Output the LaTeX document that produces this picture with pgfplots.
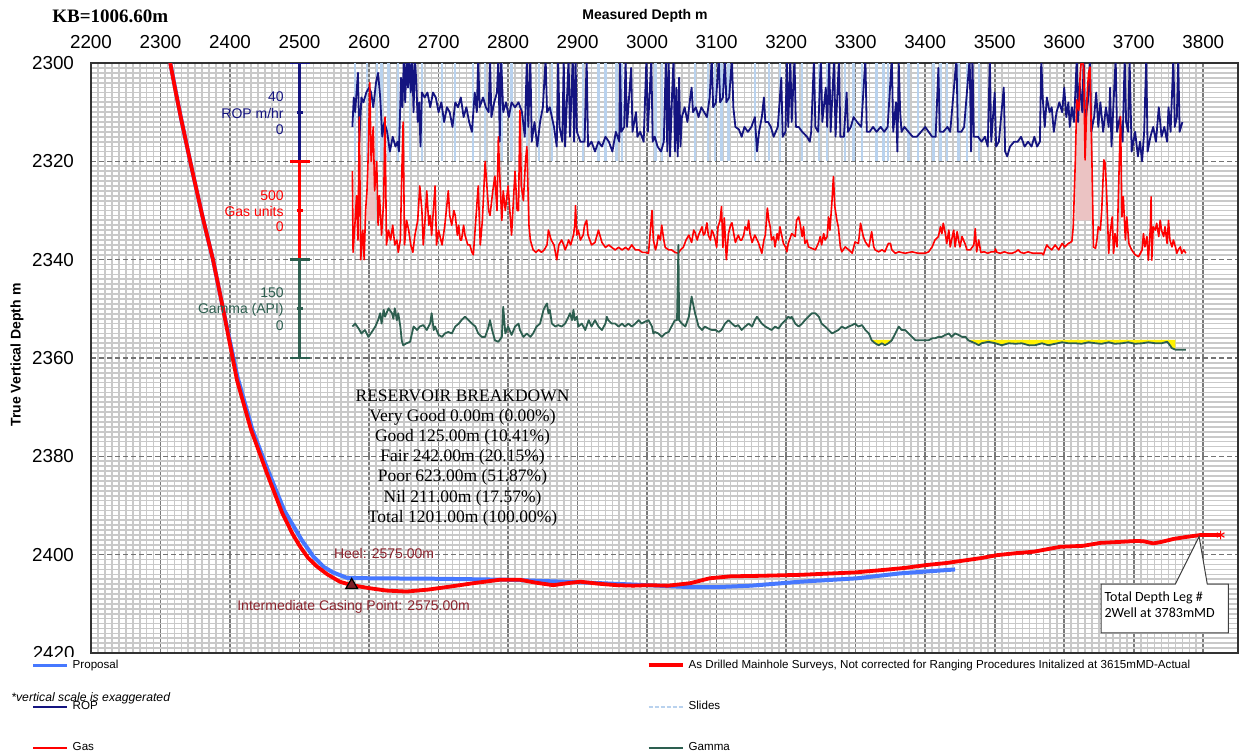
\documentclass[border=0pt]{standalone}
\usepackage{pgfplots}
\pgfplotsset{compat=1.18}
\usepackage{pgfplotstable}
\usepackage{fontspec}
\setmainfont{Liberation Sans}
\newfontfamily\serifkb{Liberation Serif}
\newfontfamily\calloutfont{Carlito}

\definecolor{ropc}{RGB}{20,20,128}
\definecolor{gasc}{RGB}{255,0,0}
\definecolor{gammac}{RGB}{45,95,80}
\definecolor{propc}{RGB}{70,120,255}
\definecolor{drillc}{RGB}{255,0,0}
\definecolor{slidesc}{RGB}{185,210,238}
\definecolor{maroonc}{RGB}{140,35,45}
\definecolor{pinkc}{RGB}{235,195,195}

% ROP track (MD, plotted TVD position)
\pgfplotstableread{
md tvd
2576 2313
2578 2307
2580 2310
2584 2302
2586 2316
2589 2307
2592 2308
2596 2306
2600 2305
2603 2306
2606 2309
2610 2304
2613 2302
2616 2307
2619 2315
2622 2312
2626 2314
2630 2318
2634 2315
2638 2317
2641 2316
2643 2318
2646 2303
2648 2309
2650 2299
2652 2308
2654 2299
2656 2305
2658 2299
2660 2306
2662 2299
2664 2310
2666 2299
2668 2304
2670 2312
2672 2308
2674 2317
2676 2306
2680 2307
2684 2306
2688 2309
2692 2306
2696 2307
2700 2310
2704 2308
2708 2312
2712 2309
2716 2310
2720 2313
2724 2308
2728 2309
2732 2307
2736 2311
2740 2309
2744 2312
2748 2314
2752 2306
2755 2310
2757 2299
2759 2309
2764 2307
2768 2309
2772 2310
2774 2299
2776 2311
2780 2308
2784 2306
2786 2299
2788 2316
2790 2299
2793 2310
2797 2308
2801 2311
2805 2308
2810 2309
2815 2308
2820 2310
2824 2315
2827 2299
2829 2313
2832 2299
2834 2316
2838 2312
2842 2317
2846 2312
2850 2309
2854 2299
2856 2310
2860 2309
2866 2313
2870 2317
2872 2299
2874 2313
2878 2316
2880 2299
2882 2317
2887 2299
2889 2315
2893 2299
2895 2316
2897 2299
2899 2314
2904 2316
2910 2316
2913 2299
2915 2317
2920 2316
2925 2318
2930 2316
2935 2317
2940 2315
2945 2316
2950 2318
2955 2314
2960 2316
2961 2299
2963 2314
2967 2313
2969 2299
2971 2313
2977 2301
2979 2314
2984 2310
2986 2315
2990 2314
2995 2316
2999 2299
3001 2314
3006 2299
3008 2316
3011 2315
3015 2317
3020 2318
3024 2316
3027 2299
3029 2318
3031 2299
3033 2319
3036 2306
3038 2299
3040 2318
3042 2305
3044 2319
3046 2303
3048 2317
3050 2311
3054 2309
3058 2312
3062 2307
3064 2305
3066 2310
3070 2309
3074 2311
3078 2309
3082 2310
3086 2311
3090 2307
3093 2299
3095 2309
3099 2308
3103 2299
3105 2308
3109 2307
3112 2299
3114 2308
3118 2307
3122 2299
3124 2309
3127 2313
3132 2313.5
3136 2315
3140 2313
3145 2314
3150 2313
3155 2311
3158 2318
3161 2314
3165 2311
3168 2307
3170 2312
3174 2312
3178 2313
3182 2315
3188 2313
3193 2303
3195 2315
3199 2314
3201 2299
3203 2313
3206 2299
3208 2312
3212 2299
3214 2313
3218 2313
3223 2314
3230 2315
3234 2316
3236 2314
3240 2299
3242 2313
3246 2314
3250 2299
3252 2312
3257 2305
3259 2313
3262 2299
3264 2314
3269 2299
3271 2315
3276 2299
3278 2315
3283 2315
3287 2306
3289 2314
3293 2313
3297 2311
3302 2312
3308 2313
3314 2299
3316 2314
3320 2314
3325 2313
3330 2314
3336 2313
3341 2314
3346 2313
3352 2299
3354 2314
3358 2308
3360 2318
3362 2300
3364 2310
3366 2314
3370 2313
3376 2314
3382 2315
3388 2315
3394 2314
3400 2313
3405 2314
3410 2315
3415 2315
3419 2301
3421 2314
3426 2314
3432 2313
3436 2314
3445 2299
3447 2314
3452 2314
3456 2313
3464 2299
3466 2318
3468 2299
3470 2315
3476 2315
3481 2316
3486 2315
3490 2317
3493 2299
3495 2316
3500 2306
3502 2317
3506 2316
3513 2305
3515 2318
3518 2319
3522 2317
3528 2316
3533 2316
3538 2315
3543 2317
3548 2316
3553 2317
3557 2315
3561 2317
3565 2316
3567 2299
3569 2307
3572 2313
3575 2307
3579 2310
3582 2309
3585 2314
3589 2310
3593 2308
3597 2310
3600 2305
3603 2311
3606 2308
3608 2313
3611 2309
3614 2312
3616 2306
3618 2299
3620 2312
3622 2304
3626 2310
3628 2299
3630 2312
3634 2308
3637 2299
3639 2314
3643 2311
3646 2306
3649 2313
3652 2308
3656 2314
3660 2309
3664 2313
3666 2305
3668 2317
3671 2308
3674 2299
3676 2314
3680 2311
3684 2316
3687 2299
3689 2312
3692 2314
3694 2299
3697 2318
3702 2314
3706 2319
3709 2316
3712 2320
3715 2314
3718 2299
3720 2318
3724 2315
3728 2313
3732 2316
3736 2309
3740 2315
3744 2313
3748 2316
3750 2309
3753 2314
3757 2299
3759 2313
3762 2311
3764 2299
3766 2314
3770 2312
}\ropdata

% Gas track
\pgfplotstableread{
md tvd
2576 2322
2577 2338.5
2580 2332
2582 2327
2584 2336
2586 2311
2588 2340
2591 2334
2593 2340
2595 2330
2597 2326
2599 2318
2601 2304
2603 2320
2606 2313
2608 2326
2611 2320
2613 2333
2615 2327
2618 2335
2621 2328
2623 2311
2625 2337
2628 2334
2631 2336
2634 2333
2637 2337
2640 2336
2642 2338.5
2645 2336
2647 2323
2649 2312
2651 2337
2654 2332
2657 2334
2660 2337
2663 2338.5
2666 2335
2670 2332
2673 2325
2676 2330
2678 2337
2681 2331
2683 2326
2686 2333
2688 2331
2690 2335
2693 2329
2695 2325
2697 2337
2700 2334
2705 2337
2709 2333
2714 2326
2716 2331
2719 2333
2722 2330
2724 2331
2727 2335
2729 2333
2731 2336
2733 2336
2736 2333
2738 2335
2742 2337
2745 2337
2748 2338.5
2750 2339
2753 2333
2757 2325
2760 2337
2763 2332
2767 2320
2769 2324
2772 2330
2774 2331
2778 2326
2781 2323
2784 2330
2786 2315
2788 2323
2791 2332
2793 2326
2796 2330
2800 2325
2803 2331
2805 2335
2808 2327
2810 2322
2813 2330
2815 2330
2817 2309.6
2819 2325
2822 2328
2825 2320
2827 2317
2830 2333
2832 2336
2836 2338
2840 2338.5
2844 2338
2848 2338.5
2852 2338
2856 2337
2858 2334
2862 2336
2866 2337
2870 2340
2873 2337
2877 2336
2880 2337
2882 2338
2885 2337
2887 2336
2890 2337
2894 2335
2896 2333
2897 2329
2899 2335
2901 2334
2904 2336
2908 2335
2910 2333
2913 2332
2915 2335
2920 2337
2925 2336.5
2928 2335
2930 2334
2935 2336.5
2940 2337.5
2945 2337
2949 2337.5
2954 2338
2959 2337.5
2964 2338
2969 2337.5
2973 2338
2978 2337
2983 2338
2988 2338
2993 2338.5
2997 2338.5
3002 2338.7
3007 2330
3009 2336
3012 2338
3014 2337
3016 2335
3019 2336
3021 2333
3024 2336
3026 2337.5
3031 2338
3035 2338
3040 2338.5
3045 2338.7
3048 2338
3052 2337.5
3056 2336
3060 2335
3064 2336.5
3067 2334
3069 2334.5
3072 2336
3074 2335
3077 2334
3079 2333.3
3081 2335
3083 2334.7
3086 2332.5
3088 2335
3091 2336
3093 2334
3095 2334.5
3098 2336
3100 2337.5
3102 2333.3
3105 2332
3107 2329.2
3109 2337.5
3111 2331.5
3114 2340
3117 2334.7
3120 2333
3122 2332.5
3125 2335
3127 2336.5
3131 2335
3134 2336
3136 2336
3139 2335
3141 2333.3
3144 2334
3146 2332
3148 2334.7
3151 2336.5
3155 2335
3160 2336.5
3165 2338.7
3168 2336
3170 2335
3173 2329.5
3175 2332
3177 2333.3
3179 2336
3182 2335.3
3184 2337.4
3187 2334.7
3189 2336
3191 2333.3
3194 2335.3
3196 2336.7
3199 2337.4
3201 2338.4
3203 2336.7
3208 2334.7
3213 2335.3
3215 2332
3218 2331.3
3220 2332.6
3223 2335.3
3225 2333.3
3227 2336.7
3230 2336
3232 2337.4
3237 2337.7
3242 2338
3244 2337.4
3247 2336.4
3249 2335.3
3251 2337
3254 2334.7
3256 2336
3259 2335.3
3261 2331.3
3263 2334
3266 2327.9
3268 2323.1
3270 2329.2
3273 2332
3275 2333.3
3278 2337.4
3280 2338.4
3285 2337.4
3290 2338
3295 2338.7
3299 2336.4
3304 2336.7
3307 2332.6
3309 2334
3311 2335.3
3314 2336.4
3319 2337.4
3323 2334.3
3326 2337.4
3328 2338
3333 2338.4
3338 2338
3342 2338.4
3347 2336.7
3350 2336.7
3352 2338
3357 2338.7
3362 2338.4
3371 2338.7
3381 2338.4
3390 2338.7
3400 2338.7
3405 2338.4
3410 2337.4
3414 2336
3419 2335.3
3422 2333.3
3424 2334.7
3426 2332.6
3429 2334.7
3431 2336.7
3434 2334
3436 2337.4
3438 2336
3441 2334
3443 2337.4
3446 2334.3
3448 2336
3450 2337.4
3453 2335.3
3458 2337
3460 2338
3465 2338
3470 2337
3472 2333.7
3474 2338.4
3477 2336
3480 2338.5
3485 2338.4
3490 2338.7
3495 2338.4
3500 2338.4
3501 2337.8
3503 2338.5
3508 2338.7
3514 2338.4
3520 2338.7
3525 2338.7
3530 2338.4
3534 2338
3537 2338.5
3542 2338.7
3548 2338.4
3555 2338.7
3562 2338.7
3568 2338.7
3570 2339
3573 2337.7
3575 2337
3577 2337.4
3582 2338
3587 2337
3592 2338
3597 2336.7
3601 2337.4
3606 2336.7
3611 2336.3
3613 2333.3
3616 2319.7
3618 2307.5
3621 2309.6
3623 2302.1
3625 2299
3628 2300.8
3630 2319.7
3633 2306.2
3635 2302.1
3637 2300.8
3640 2321.1
3642 2337.4
3645 2337.7
3647 2336
3649 2333.3
3652 2334
3654 2329.9
3657 2319.7
3659 2320.4
3661 2326.5
3664 2338.7
3666 2334.7
3669 2331.3
3671 2338.7
3673 2334.7
3676 2337.4
3678 2326.5
3681 2310.9
3683 2331.3
3685 2327.2
3688 2336
3690 2331.3
3693 2336.7
3695 2337.4
3697 2338
3702 2339
3707 2339.4
3712 2338
3714 2334.7
3716 2337.4
3719 2335.3
3721 2340.1
3724 2333.3
3725 2327.2
3726 2340.1
3728 2333.3
3731 2334
3733 2332.6
3736 2335.3
3738 2332
3740 2334
3743 2335.3
3745 2333.3
3748 2336.7
3750 2332
3752 2336
3755 2337.4
3757 2336
3760 2337.4
3762 2338.7
3764 2338
3767 2337.4
3769 2338.7
3772 2338
3775 2338.7
}\gasdata

% Gamma track
\pgfplotstableread{
md tvd
2576 2353.6
2580 2353
2585 2354
2589 2355
2594 2354.3
2599 2355.7
2604 2354.7
2609 2353.6
2613 2352.3
2616 2350.9
2618 2353
2621 2350.2
2623 2351.6
2628 2349.9
2633 2350.9
2635 2352
2637 2349.9
2640 2352.3
2642 2350.9
2645 2353.6
2647 2356.4
2649 2357.4
2654 2357
2659 2356.7
2664 2353.6
2669 2354.3
2673 2353.6
2678 2353.3
2683 2354.3
2688 2352.9
2690 2350.9
2693 2354.3
2695 2353.6
2700 2355.3
2705 2355.7
2709 2355
2714 2354.7
2719 2355
2724 2353.6
2729 2353
2733 2352.3
2738 2351.6
2743 2352.3
2748 2353
2753 2353.6
2757 2355
2762 2355.7
2767 2355.7
2772 2353.6
2774 2352.3
2777 2354.3
2781 2356.4
2786 2356.7
2791 2355.7
2793 2349.6
2796 2355
2800 2353.6
2805 2355.3
2810 2353.6
2815 2353
2817 2354.3
2822 2355.7
2827 2355
2832 2355.7
2836 2355
2841 2353.6
2846 2353
2851 2350.2
2853 2349.6
2856 2348.9
2858 2350.9
2860 2350.2
2863 2353
2868 2353.6
2872 2353.3
2877 2353.6
2882 2353
2887 2351.6
2889 2350.9
2892 2352.3
2894 2350.2
2896 2352.3
2899 2351.6
2901 2353.6
2906 2353
2911 2354.3
2916 2352.3
2920 2353.6
2925 2352.3
2930 2353.6
2935 2354.3
2940 2353
2942 2351.6
2944 2352.3
2949 2353
2954 2353
2959 2353.6
2964 2353
2968 2353.6
2973 2353
2978 2353.6
2983 2353
2988 2352.3
2992 2353
2997 2352.6
3002 2352.3
3007 2353.6
3009 2355
3011 2354.7
3016 2355
3021 2355.7
3026 2355
3031 2354.7
3035 2353.6
3040 2352.3
3043 2352.3
3045 2337
3046 2352.3
3050 2353
3055 2353.6
3060 2351.6
3062 2349.6
3064 2347.5
3067 2349.6
3069 2350.9
3074 2353.6
3079 2354.3
3083 2353.6
3088 2354
3093 2354.3
3098 2354.3
3103 2354.7
3107 2354.3
3112 2353
3117 2352.3
3122 2353
3127 2353.6
3131 2353.3
3136 2354.3
3141 2353.6
3146 2353
3151 2353.6
3155 2352.3
3158 2351.6
3160 2352
3165 2353
3170 2353.6
3175 2354
3179 2354.3
3184 2353.6
3189 2354
3194 2353
3199 2352.3
3203 2351.6
3206 2351.9
3208 2351.6
3213 2353
3218 2353.6
3223 2353
3227 2352.3
3232 2351.6
3237 2350.9
3242 2350.9
3247 2351.6
3251 2353
3256 2353.6
3261 2354.3
3266 2355
3270 2354.7
3275 2354.3
3280 2353.6
3285 2354
3290 2353.6
3295 2353.3
3299 2353
3304 2353.6
3309 2353.3
3314 2354.3
3319 2355
3323 2356.4
3328 2357
3333 2357.4
3338 2357
3342 2357.4
3347 2357
3352 2356.4
3357 2355
3362 2353.6
3366 2354.3
3371 2354.3
3376 2355
3381 2355.7
3386 2356.4
3390 2356.4
3400 2356.4
3405 2356.4
3410 2356
3414 2356
3419 2355.7
3424 2355.7
3429 2355.3
3434 2355
3438 2355.7
3443 2355
3448 2355.3
3453 2355.7
3458 2355.7
3462 2356.4
3467 2356.7
3472 2357
3477 2357.4
3481 2357
3491 2356.7
3501 2357
3510 2357.4
3520 2357
3530 2357.1
3539 2357
3549 2357.4
3558 2357.4
3568 2357
3577 2357.4
3587 2357.1
3597 2356.8
3606 2357
3616 2357
3625 2357.1
3635 2356.8
3645 2357
3654 2357.1
3664 2356.8
3673 2357.1
3683 2357
3692 2356.8
3702 2357.1
3712 2357
3721 2356.8
3731 2357
3740 2357
3748 2356.7
3750 2357
3755 2358
3760 2358.3
3775 2358.3
}\gammadata

% Slide intervals (drawn as combs down to the bottom of the ROP track)
\pgfplotstableread{
md tvd
2580 2320
2597 2320
2611 2320
2618 2320
2628 2320
2642 2320
2659 2320
2676 2320
2705 2320
2724 2320
2750 2320
2767 2320
2791 2320
2805 2320
2827 2320
2844 2320
2863 2320
2908 2320
2930 2320
2940 2320
2956 2320
2964 2320
3012 2320
3021 2320
3069 2320
3088 2320
3098 2320
3107 2320
3117 2320
3155 2320
3175 2320
3191 2320
3223 2320
3247 2320
3259 2320
3285 2320
3297 2320
3309 2320
3330 2320
3340 2320
3347 2320
3376 2320
3390 2320
3412 2320
3422 2320
3431 2320
3448 2320
3460 2320
3477 2320
}\slidesdata

% Well paths
\pgfplotstableread{
md tvd
2314 2300
2330 2311.6
2345 2321.5
2360 2331
2375.5 2340
2390 2350
2411 2364
2432 2374.5
2455 2383
2478 2391
2503 2397
2520 2400.4
2535 2402.5
2548 2403.6
2568 2404.7
2600 2404.8
2700 2404.9
2800 2405.1
2900 2405.6
3000 2406.2
3062 2406.6
3100 2406.6
3150 2406.3
3220 2405.5
3302 2404.8
3364 2403.8
3443 2403
}\proposal

\pgfplotstableread{
md tvd
2314 2300
2322 2306
2330 2311.6
2345 2321.5
2360 2331
2375.5 2340
2390 2350
2410 2364.5
2430 2374.5
2453 2383.4
2475 2391.5
2490 2395.8
2501 2398.4
2512 2400.6
2525 2402.4
2540 2404
2558 2405.5
2575 2406.2
2600 2406.8
2625 2407.3
2654 2407.5
2685 2407.1
2716 2406.5
2750 2405.8
2788 2405.1
2817 2405.1
2840 2405.7
2865 2406.2
2885 2405.8
2904 2405.5
2930 2405.9
2956 2406.2
2980 2406.3
3000 2406.2
3030 2406.3
3062 2405.8
3090 2404.8
3120 2404.4
3162 2404.3
3220 2404.1
3268 2403.8
3300 2403.6
3340 2403.1
3370 2402.7
3402 2402.1
3430 2401.7
3460 2401.1
3480 2400.7
3503 2400.1
3530 2399.7
3556 2399.4
3575 2398.9
3594 2398.4
3627 2398.2
3652 2397.6
3680 2397.4
3705 2397.2
3715 2397.3
3728 2397.7
3740 2397.4
3757 2396.8
3775 2396.4
3796 2396
3825 2396
}\drilled

\begin{document}
\begin{tikzpicture}
\useasboundingbox (0,0) rectangle (620.5pt,376pt);
\begin{axis}[
  at={(45.5pt,49.5pt)}, anchor=south west,
  scale only axis, width=573.5pt, height=295pt,
  xmin=2200, xmax=3850, ymin=2300, ymax=2420, y dir=reverse,
  xtick={2200,2300,2400,2500,2600,2700,2800,2900,3000,3100,3200,3300,3400,3500,3600,3700,3800},
  xticklabels={2200,2300,2400,2500,2600,2700,2800,2900,3000,3100,3200,3300,3400,3500,3600,3700,3800},
  ytick={2300,2320,2340,2360,2380,2400,2420},
  yticklabels={2300,2320,2340,2360,2380,2400,{}},
  xticklabel pos=upper,
  minor x tick num=9, minor y tick num=19,
  grid=both,
  minor grid style={draw=black!21, line width=0.85pt},
  major x grid style={draw=black!52, line width=0.8pt},
  major y grid style={draw=black!55, line width=0.8pt, dash pattern=on 2.5pt off 1.5pt},
  tick style={draw=none},
  axis line style={black!80, line width=0.8pt},
  ticklabel style={font=\fontsize{9.4}{10}\selectfont},
  xticklabel style={anchor=center, yshift=10.5pt},
  yticklabel style={anchor=east, xshift=-5pt},
  xlabel={Measured Depth m},
  xlabel style={font=\bfseries\fontsize{7}{8}\selectfont, at={(axis description cs:0.483,1.0797)}, anchor=center},
  ylabel={True Vertical Depth m},
  ylabel style={font=\bfseries\fontsize{7}{8}\selectfont, at={(axis description cs:-0.0645,0.505)}, anchor=center},
  legend columns=2,
  legend cell align=left,
  legend style={at={(axis description cs:-0.0523,-0.004)}, anchor=north west,
    draw=none, fill=none, inner sep=0pt,
    font=\fontsize{5.8}{6.5}\selectfont,
    row sep=11pt,
    /tikz/column 2/.style={column sep=262pt}},
]
% legend entries
\addlegendimage{propc, line width=1.6pt}
\addlegendentry{Proposal}
\addlegendimage{drillc, line width=2pt}
\addlegendentry{{As Drilled Mainhole Surveys, Not corrected for Ranging Procedures Initalized at 3615mMD-Actual}}
\addlegendimage{ropc, line width=0.8pt}
\addlegendentry{ROP}
\addlegendimage{slidesc, line width=0.8pt, dash pattern=on 2pt off 1pt}
\addlegendentry{Slides}
\addlegendimage{gasc, line width=0.8pt}
\addlegendentry{Gas}
\addlegendimage{gammac, line width=0.8pt}
\addlegendentry{Gamma}

% slides
\addplot[forget plot, ycomb, slidesc, line width=1.1pt] table[x=md, y=tvd] {\slidesdata};

% gas show shading
\addplot[forget plot, fill=pinkc, draw=none] coordinates {(2596,2332) (2597,2326) (2599,2318) (2601,2304) (2603,2320) (2606,2313) (2608,2326) (2610,2332)} -- cycle;
\addplot[forget plot, fill=pinkc, draw=none] coordinates {(3616,2332) (3616,2319.7) (3618,2307.5) (3621,2309.6) (3623,2302.1) (3625,2300) (3628,2300.8) (3630,2319.7) (3633,2306.2) (3635,2302.1) (3637,2300.8) (3640,2321.1) (3641,2332)} -- cycle;

% ROP
\addplot[forget plot, ropc, line width=0.9pt, line join=round] table[x=md, y=tvd] {\ropdata};
% gas
\addplot[forget plot, gasc, line width=0.8pt, line join=round] table[x=md, y=tvd] {\gasdata};

% gamma cut-off shading
\addplot[forget plot, fill=yellow, draw=none] coordinates {(3323,2356.3) (3323,2356.4) (3328,2357) (3333,2357.4) (3338,2357) (3342,2357.4) (3347,2357) (3352,2356.4) (3352,2356.3)} -- cycle;
\addplot[forget plot, fill=yellow, draw=none] coordinates {(3462,2356.4) (3467,2356.7) (3472,2357) (3477,2357.4) (3481,2357) (3491,2356.7) (3501,2357) (3510,2357.4) (3520,2357) (3530,2357.1) (3539,2357) (3549,2357.4) (3558,2357.4) (3568,2357) (3577,2357.4) (3587,2357.1) (3597,2356.8) (3606,2357) (3616,2357) (3625,2357.1) (3635,2356.8) (3645,2357) (3654,2357.1) (3664,2356.8) (3673,2357.1) (3683,2357) (3692,2356.8) (3702,2357.1) (3712,2357) (3721,2356.8) (3731,2357) (3740,2357) (3748,2356.7) (3750,2357) (3755,2358) (3760,2358.3) (3760,2356.3) (3462,2356.3)} -- cycle;
% gamma
\addplot[forget plot, gammac, line width=0.9pt, line join=round] table[x=md, y=tvd] {\gammadata};

% track scales
\addplot[forget plot, ropc, line width=1.4pt, unbounded coords=jump] coordinates {(2500,2300) (2500,2320) (2500,nan) (2485.6,2300) (2514.4,2300) (2500,nan) (2495.7,2310) (2504.3,2310)};
\addplot[forget plot, gasc, line width=1.4pt, unbounded coords=jump] coordinates {(2500,2320) (2500,2340) (2500,nan) (2485.6,2320) (2514.4,2320) (2500,nan) (2495.7,2330) (2504.3,2330)};
\addplot[forget plot, gammac, line width=1.4pt, unbounded coords=jump] coordinates {(2500,2340) (2500,2360) (2500,nan) (2485.6,2340) (2514.4,2340) (2500,nan) (2485.6,2360) (2514.4,2360) (2500,nan) (2495.7,2350) (2504.3,2350)};

% well paths
\addplot[forget plot, propc, line width=2pt, line join=round] table[x=md, y=tvd] {\proposal};
\addplot[forget plot, drillc, line width=1.9pt, line join=round] table[x=md, y=tvd] {\drilled};
\addplot[forget plot, only marks, mark=asterisk, mark size=2.2pt, drillc, line width=0.6pt] coordinates {(3825,2396)};
\addplot[forget plot, only marks, mark=triangle*, mark size=3.4pt, mark options={fill=maroonc!90!black, draw=black, line width=0.6pt}] coordinates {(2575,2406.2)};

% track scale labels
\begin{scope}[every node/.style={anchor=east, inner sep=0pt, font=\fontsize{7}{8}\selectfont}]
\node[text=ropc] at (axis cs:2477.7,2306.8) {40};
\node[text=ropc] at (axis cs:2477.7,2310.2) {ROP m/hr};
\node[text=ropc] at (axis cs:2477.7,2313.6) {0};
\node[text=gasc] at (axis cs:2477.7,2327) {500};
\node[text=gasc] at (axis cs:2477.7,2330.2) {Gas units};
\node[text=gasc] at (axis cs:2477.7,2333.3) {0};
\node[text=gammac] at (axis cs:2477.7,2346.8) {150};
\node[text=gammac] at (axis cs:2477.7,2350.2) {Gamma (API)};
\node[text=gammac] at (axis cs:2477.7,2353.4) {0};
\end{scope}

% reservoir summary
\node[align=center, inner sep=0pt, font=\serifkb\fontsize{8.75}{10.1}\selectfont] at (axis cs:2734.5,2380.3)
  {RESERVOIR BREAKDOWN\\Very Good 0.00m (0.00\%)\\Good 125.00m (10.41\%)\\Fair 242.00m (20.15\%)\\Poor 623.00m (51.87\%)\\Nil 211.00m (17.57\%)\\Total 1201.00m (100.00\%)};

% casing annotations
\node[text=maroonc, inner sep=0pt, font=\fontsize{7}{8}\selectfont] at (axis cs:2621.6,2399.7) {Heel: 2575.00m};
\node[text=maroonc, inner sep=0pt, font=\fontsize{7}{8}\selectfont] at (axis cs:2577.7,2410.6) {Intermediate Casing Point: 2575.00m};

% total depth callout
\draw[black!75, line width=0.5pt, fill=white] (axis cs:3653,2406) -- (axis cs:3759.7,2406) -- (axis cs:3794,2396.3) -- (axis cs:3805.8,2406) -- (axis cs:3836,2406) -- (axis cs:3836,2415.9) -- (axis cs:3653,2415.9) -- cycle;
\node[anchor=north west, align=left, inner sep=0pt, font=\calloutfont\fontsize{7}{8}\selectfont] at (axis cs:3657.5,2407.4) {Total Depth Leg \#\\2Well at 3783mMD};
\end{axis}

% KB elevation
\node[anchor=west, inner sep=0pt, font=\serifkb\bfseries\fontsize{9.5}{10}\selectfont] at (26pt,368pt) {KB=1006.60m};
% partly hidden bottom depth label
\begin{scope}
\clip (0pt,47.75pt) rectangle (45pt,60pt);
\node[anchor=east, inner sep=0pt, font=\fontsize{9.4}{10}\selectfont] at (37.5pt,49.5pt) {2420};
\end{scope}
% footnote
\node[anchor=west, inner sep=0pt, font=\itshape\fontsize{6.1}{7}\selectfont] at (5.5pt,27pt) {*vertical scale is exaggerated};
\end{tikzpicture}
\end{document}
